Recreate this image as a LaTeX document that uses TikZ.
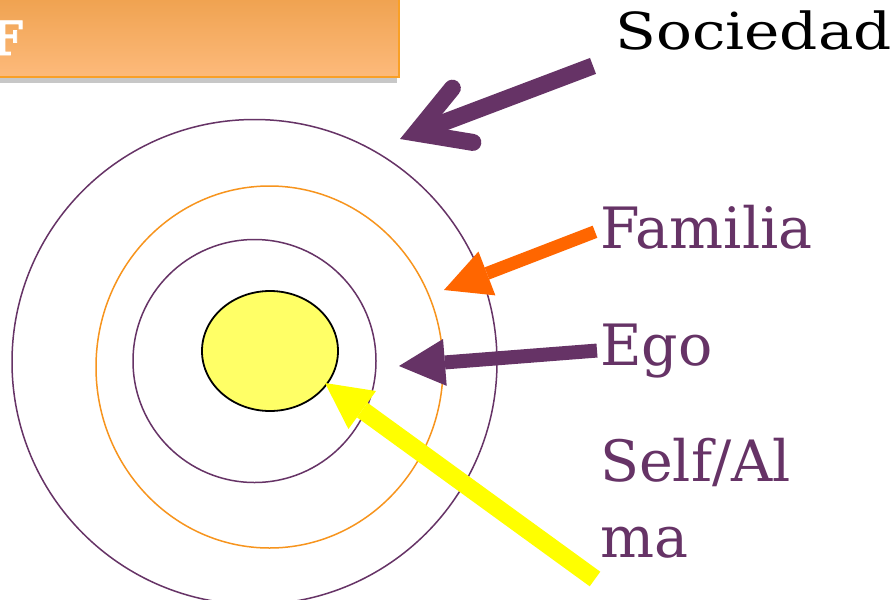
\documentclass[tikz,border=0pt]{standalone}
\usepackage{fontspec}
\setmainfont{DejaVu Serif}
\newfontfamily\ancha{DejaVu Serif}[FakeStretch=1.17]
\newfontfamily\negrita{DejaVu Serif Bold}[FakeBold=2]
\usepackage{xcolor}
\usetikzlibrary{arrows.meta, shapes.geometric}

\definecolor{morado}{RGB}{102,51,102}
\definecolor{naranja}{RGB}{255,102,0}
\definecolor{anillo}{RGB}{247,148,29}
\definecolor{amarillo}{RGB}{255,255,0}
\definecolor{yema}{RGB}{255,255,102}
\definecolor{barraA}{RGB}{238,160,76}
\definecolor{barraB}{RGB}{253,186,123}
\definecolor{borde}{RGB}{249,160,38}

\begin{document}
\begin{tikzpicture}[x=1pt, y=-1pt,
  etiqueta/.style={anchor=base west, inner sep=0pt, text=morado, align=left,
    font=\fontsize{57}{76}\selectfont},
  aro/.style={circle, draw=morado, line width=1.5pt, minimum size=#1, inner sep=0pt},
  flecha/.style={line width=#1, -{Triangle[length=46pt, width=47pt, line width=0pt]}}]
  \clip (0,0) rectangle (892,600);
  \fill[white] (0,0) rectangle (892,600);

  % Barra del titulo
  \fill[black!22] (-10,-10) rectangle (397,83);
  \shade[top color=barraA, bottom color=barraB] (-10,-10) rectangle (399,77);
  \draw[borde, line width=2pt] (-10,77) -- (399,77) -- (399,-10);
  \node[anchor=base east, inner sep=0pt, text=white,
    font=\negrita\fontsize{47}{56}\selectfont] (tituloF) at (23,55) {F};

  % Anillos
  \node[aro=485pt] (sociedadAro) at (254.5,362) {};
  \node[ellipse, draw=anillo, line width=1.5pt, minimum width=347pt,
    minimum height=362pt, inner sep=0pt] (familiaAro) at (269.5,367) {};
  \node[aro=243pt] (egoAro) at (254.5,361) {};
  \node[ellipse, draw=black, fill=yema, line width=1.8pt, minimum width=136pt,
    minimum height=120pt, inner sep=0pt] (selfAro) at (270,351) {};

  % Etiquetas
  \node[etiqueta, text=black, font=\ancha\fontsize{51}{60}\selectfont] (sociedad) at (615,49) {Sociedad};
  \node[etiqueta] (familia) at (600,248) {Familia};
  \node[etiqueta] (ego) at (600,365) {Ego};
  \node[etiqueta] (alma) at (600,557) {Self/Al\\ma};

  % Flechas
  \coordinate (sociedadPunta) at (400,139);
  \coordinate (familiaPunta) at (444,290);
  \coordinate (egoPunta) at (399,366);
  \coordinate (almaPunta) at (325,383);

  \draw[morado, line width=17pt,
    -{Straight Barb[length=50pt, width=58pt, line cap=round, line join=miter]}]
    ([shift={(-22,16)}]sociedad.south west) -- (sociedadPunta);
  \draw[naranja, flecha=13pt] ([shift={(-5,5)}]familia.west) -- (familiaPunta);
  \draw[morado, flecha=14pt] ([xshift=-3pt]ego.west) -- (egoPunta);
  \draw[amarillo, flecha=18pt] ([shift={(-5,21)}]alma.south west) -- (almaPunta);
\end{tikzpicture}
\end{document}
